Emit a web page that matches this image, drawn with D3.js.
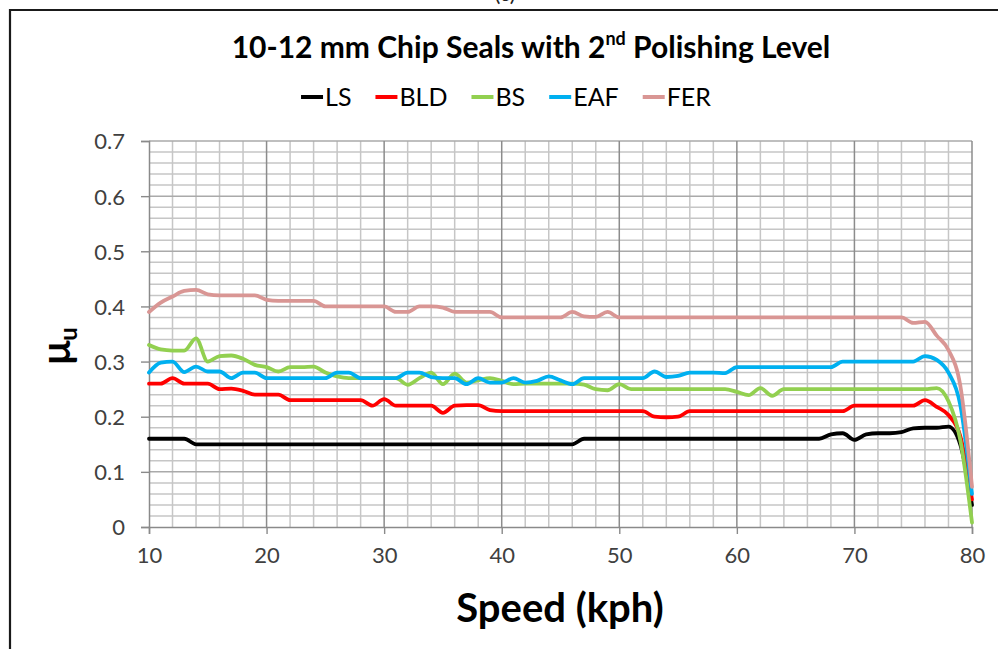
<!DOCTYPE html>
<html>
<head>
<meta charset="utf-8">
<script src="https://cdn.jsdelivr.net/npm/d3@7"></script>
<style>
  html, body { margin: 0; padding: 0; background: #ffffff; }
  svg { display: block; }
</style>
</head>
<body>
<svg id="chart" width="998" height="649"></svg>
<script>
// Speed samples (kph), one per km/h from 10 to 80
const speeds = d3.range(10, 81);

// Friction coefficient μu per speed for each aggregate type
const LS = [
  0.16, 0.16, 0.16, 0.16, 0.15, 0.15, 0.15, 0.15, 0.15, 0.15,
  0.15, 0.15, 0.15, 0.15, 0.15, 0.15, 0.15, 0.15, 0.15, 0.15,
  0.15, 0.15, 0.15, 0.15, 0.15, 0.15, 0.15, 0.15, 0.15, 0.15,
  0.15, 0.15, 0.15, 0.15, 0.15, 0.15, 0.15, 0.16, 0.16, 0.16,
  0.16, 0.16, 0.16, 0.16, 0.16, 0.16, 0.16, 0.16, 0.16, 0.16,
  0.16, 0.16, 0.16, 0.16, 0.16, 0.16, 0.16, 0.16, 0.168, 0.17,
  0.158, 0.168, 0.17, 0.17, 0.172, 0.179, 0.18, 0.18, 0.182, 0.15,
  0.04
];
const BLD = [
  0.26, 0.26, 0.27, 0.26, 0.26, 0.26, 0.25, 0.251, 0.247, 0.24,
  0.24, 0.24, 0.23, 0.23, 0.23, 0.23, 0.23, 0.23, 0.23, 0.22,
  0.232, 0.22, 0.22, 0.22, 0.22, 0.207, 0.22, 0.221, 0.221, 0.212,
  0.21, 0.21, 0.21, 0.21, 0.21, 0.21, 0.21, 0.21, 0.21, 0.21,
  0.21, 0.21, 0.21, 0.20, 0.199, 0.20, 0.21, 0.21, 0.21, 0.21,
  0.21, 0.21, 0.21, 0.21, 0.21, 0.21, 0.21, 0.21, 0.21, 0.21,
  0.22, 0.22, 0.22, 0.22, 0.22, 0.22, 0.23, 0.218, 0.203, 0.165,
  0.05
];
const BS = [
  0.33, 0.322, 0.32, 0.32, 0.342, 0.30, 0.31, 0.311, 0.305, 0.294,
  0.29, 0.282, 0.29, 0.29, 0.291, 0.28, 0.273, 0.27, 0.27, 0.27,
  0.27, 0.27, 0.258, 0.27, 0.28, 0.259, 0.278, 0.262, 0.266, 0.27,
  0.265, 0.259, 0.26, 0.26, 0.26, 0.26, 0.26, 0.258, 0.25, 0.248,
  0.259, 0.25, 0.25, 0.25, 0.25, 0.25, 0.25, 0.25, 0.25, 0.25,
  0.245, 0.239, 0.252, 0.238, 0.25, 0.25, 0.25, 0.25, 0.25, 0.25,
  0.25, 0.25, 0.25, 0.25, 0.25, 0.25, 0.25, 0.252, 0.228, 0.158,
  0.008
];
const EAF = [
  0.28, 0.298, 0.30, 0.281, 0.291, 0.282, 0.282, 0.27, 0.28, 0.28,
  0.27, 0.27, 0.27, 0.27, 0.27, 0.27, 0.28, 0.28, 0.27, 0.27,
  0.27, 0.27, 0.28, 0.28, 0.272, 0.27, 0.27, 0.259, 0.27, 0.262,
  0.262, 0.27, 0.262, 0.265, 0.273, 0.266, 0.259, 0.27, 0.27, 0.27,
  0.27, 0.27, 0.27, 0.282, 0.272, 0.274, 0.28, 0.28, 0.28, 0.279,
  0.29, 0.29, 0.29, 0.29, 0.29, 0.29, 0.29, 0.29, 0.29, 0.30,
  0.30, 0.30, 0.30, 0.30, 0.30, 0.30, 0.31, 0.303, 0.28, 0.222,
  0.06
];
const FER = [
  0.39, 0.407, 0.418, 0.428, 0.43, 0.422, 0.42, 0.42, 0.42, 0.42,
  0.412, 0.41, 0.41, 0.41, 0.41, 0.40, 0.40, 0.40, 0.40, 0.40,
  0.40, 0.39, 0.39, 0.40, 0.40, 0.398, 0.39, 0.39, 0.39, 0.39,
  0.38, 0.38, 0.38, 0.38, 0.38, 0.38, 0.39, 0.382, 0.381, 0.39,
  0.38, 0.38, 0.38, 0.38, 0.38, 0.38, 0.38, 0.38, 0.38, 0.38,
  0.38, 0.38, 0.38, 0.38, 0.38, 0.38, 0.38, 0.38, 0.38, 0.38,
  0.38, 0.38, 0.38, 0.38, 0.38, 0.37, 0.372, 0.347, 0.321, 0.257,
  0.073
];

const seriesNames = ["LS", "BLD", "BS", "EAF", "FER"];
const seriesValues = [LS, BLD, BS, EAF, FER];
const seriesColors = ["#000000", "#ff0000", "#92d050", "#00b0f0", "#d99694"];

const xTickValues = [10, 20, 30, 40, 50, 60, 70, 80];
const yTickValues = [0, 0.1, 0.2, 0.3, 0.4, 0.5, 0.6, 0.7];
const yTickLabels = ["0", "0.1", "0.2", "0.3", "0.4", "0.5", "0.6", "0.7"];

const titleMain = "10-12 mm Chip Seals with 2";
const titleSup = "nd";
const titleRest = " Polishing Level";
const xTitle = "Speed (kph)";

const FONT = "Lato, 'Open Sans', sans-serif";

const svg = d3.select("#chart");

// Outer frame of the figure panel, with its panel letter above the top edge
svg.append("text")
  .attr("x", 505).attr("y", 1)
  .attr("text-anchor", "middle")
  .attr("font-family", FONT).attr("font-size", 22)
  .attr("fill", "#222")
  .text("(c)");
svg.append("path")
  .attr("d", "M10,649 L10,10 L998,10")
  .attr("fill", "none").attr("stroke", "#1a1a1a").attr("stroke-width", 2.2);

const plot = { left: 149, right: 972, top: 141, bottom: 527 };
const x = d3.scaleLinear().domain([10, 80]).range([plot.left, plot.right]);
const y = d3.scaleLinear().domain([0, 0.7]).range([plot.bottom, plot.top]);

// Grid: minor every 2 kph / 0.02, major every 10 kph / 0.1
const grid = svg.append("g");
const minorX = d3.range(12, 80, 2).filter(v => v % 10 !== 0);
const majorX = [20, 30, 40, 50, 60, 70, 80];
const minorY = d3.range(1, 35).map(i => i * 0.02).filter((v, i) => (i + 1) % 5 !== 0);
const majorY = [0.1, 0.2, 0.3, 0.4, 0.5, 0.6, 0.7];

grid.selectAll(".hminor").data(minorY).join("line")
  .attr("x1", plot.left).attr("x2", plot.right)
  .attr("y1", d => y(d)).attr("y2", d => y(d))
  .attr("stroke", "#c6c6c6").attr("stroke-width", 1.5);
grid.selectAll(".vminor").data(minorX).join("line")
  .attr("x1", d => x(d)).attr("x2", d => x(d))
  .attr("y1", plot.top).attr("y2", plot.bottom)
  .attr("stroke", "#c6c6c6").attr("stroke-width", 1.5);
grid.selectAll(".hmajor").data(majorY).join("line")
  .attr("x1", plot.left).attr("x2", plot.right)
  .attr("y1", d => y(d)).attr("y2", d => y(d))
  .attr("stroke", "#aaaaaa").attr("stroke-width", 1.5);
grid.selectAll(".vmajor").data(majorX).join("line")
  .attr("x1", d => x(d)).attr("x2", d => x(d))
  .attr("y1", plot.top).attr("y2", plot.bottom)
  .attr("stroke", "#8c8c8c").attr("stroke-width", 1.5);

// Axes
const yAxis = svg.append("g")
  .attr("transform", `translate(${plot.left},0)`)
  .call(d3.axisLeft(y).tickValues(yTickValues).tickSize(8).tickPadding(16)
    .tickFormat((d, i) => yTickLabels[i]));
const xAxis = svg.append("g")
  .attr("transform", `translate(0,${plot.bottom})`)
  .call(d3.axisBottom(x).tickValues(xTickValues).tickSize(7).tickPadding(14)
    .tickFormat(d3.format("d")));
[yAxis, xAxis].forEach(g => {
  g.select(".domain").attr("stroke", "#8a8a8a").attr("stroke-width", 1.5);
  g.selectAll(".tick line").attr("stroke", "#8a8a8a").attr("stroke-width", 1.4);
  g.selectAll(".tick text")
    .attr("font-family", FONT).attr("font-size", 22).attr("fill", "#404040");
});
yAxis.selectAll(".tick text").attr("dy", "0.36em");
xAxis.selectAll(".tick text").attr("dy", "0.7em");

// Series lines
const line = d3.line()
  .x((d, i) => x(speeds[i]))
  .y(d => y(d))
  .curve(d3.curveMonotoneX);
svg.append("g").selectAll("path").data(seriesValues).join("path")
  .attr("d", d => line(d))
  .attr("fill", "none")
  .attr("stroke", (d, i) => seriesColors[i])
  .attr("stroke-width", 3.8)
  .attr("stroke-linejoin", "round")
  .attr("stroke-linecap", "round");

// Title
const title = svg.append("text")
  .attr("x", 531).attr("y", 58)
  .attr("text-anchor", "middle")
  .attr("font-family", FONT).attr("font-weight", "bold").attr("font-size", 30)
  .attr("fill", "#000");
title.append("tspan").text(titleMain);
title.append("tspan").attr("font-size", "0.6em").attr("dy", "-0.7em").text(titleSup);
title.append("tspan").attr("dy", "0.42em").text(titleRest);

// Legend
const legend = svg.append("g");
let cursor = 0;
const legendGap = 24;
seriesNames.forEach((name, i) => {
  const item = legend.append("g").attr("transform", `translate(${cursor},0)`);
  item.append("line")
    .attr("x1", 0).attr("x2", 22).attr("y1", -9).attr("y2", -9)
    .attr("stroke", seriesColors[i]).attr("stroke-width", 4);
  const t = item.append("text")
    .attr("x", 24).attr("y", 0)
    .attr("font-family", FONT).attr("font-size", 25).attr("fill", "#000")
    .text(name);
  cursor += 24 + t.node().getComputedTextLength() + legendGap;
});
const legendWidth = cursor - legendGap;
legend.attr("transform", `translate(${506 - legendWidth / 2},106)`);

// Axis titles
svg.append("text")
  .attr("x", 560).attr("y", 622)
  .attr("text-anchor", "middle")
  .attr("font-family", FONT).attr("font-weight", "bold").attr("font-size", 40)
  .attr("fill", "#000")
  .text(xTitle);

const yTitle = svg.append("text")
  .attr("transform", "translate(70,346) rotate(-90)")
  .attr("text-anchor", "middle")
  .attr("font-family", FONT).attr("font-weight", "bold").attr("font-size", 40)
  .attr("fill", "#000");
yTitle.append("tspan").text("μ");
yTitle.append("tspan").attr("font-size", "0.6em").attr("dy", "0.3em").text("u");
</script>
</body>
</html>
